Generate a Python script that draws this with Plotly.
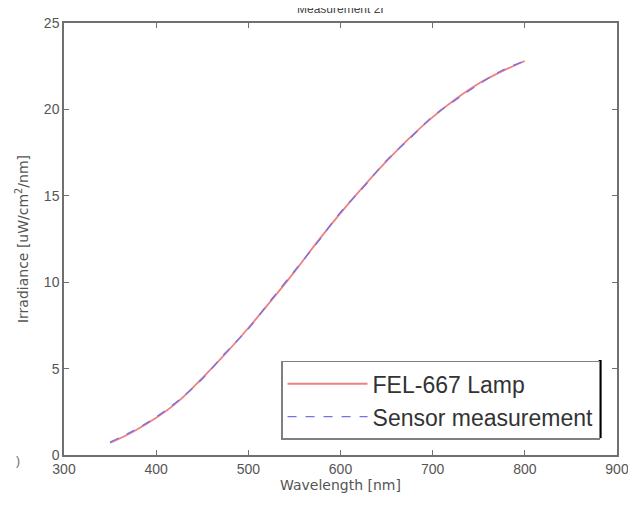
import plotly.graph_objects as go

wavelength = [350, 375, 400, 425, 450, 475, 500, 525, 550, 575, 600, 625, 650, 675, 700, 725, 750, 775, 800]
lamp = [0.7, 1.35, 2.15, 3.15, 4.45, 5.85, 7.35, 8.95, 10.6, 12.35, 14.0, 15.55, 17.0, 18.35, 19.55, 20.6, 21.5, 22.2, 22.8]
sensor = [0.75, 1.4, 2.2, 3.2, 4.4, 5.9, 7.3, 9.0, 10.65, 12.3, 14.05, 15.5, 17.05, 18.3, 19.6, 20.55, 21.45, 22.25, 22.8]
x_ticks = [300, 400, 500, 600, 700, 800, 900]
y_ticks = [0, 5, 10, 15, 20, 25]

fig = go.Figure()
fig.add_trace(go.Scatter(x=wavelength, y=lamp, mode="lines", name="FEL-667 Lamp",
                         line=dict(color="#f08080", width=1.8, shape="spline")))
fig.add_trace(go.Scatter(x=wavelength, y=sensor, mode="lines", name="Sensor measurement",
                         line=dict(color="#7070f0", width=1.3, dash="dash", shape="spline")))

axis_common = dict(showline=True, linecolor="#707070", linewidth=1.5, mirror="ticks",
                   ticks="inside", ticklen=5, tickcolor="#707070", showgrid=False, zeroline=False,
                   tickfont=dict(family="Liberation Sans Narrow, Arial Narrow, Arial", size=14, color="#555555"))

fig.update_layout(
    width=628, height=497,
    margin=dict(l=56, r=14, t=7, b=50),
    paper_bgcolor="white", plot_bgcolor="white",
    xaxis=dict(range=[300, 900], tickvals=x_ticks,
               title=dict(text="Wavelength [nm]", font=dict(family="DejaVu Sans", size=14, color="#555555"), standoff=2),
               **axis_common),
    yaxis=dict(range=[0, 25], tickvals=y_ticks,
               title=dict(text="Irradiance [uW/cm<sup>2</sup>/nm]", font=dict(family="DejaVu Sans", size=14, color="#555555"), standoff=12),
               **axis_common),
    legend=dict(x=0.3925, y=0.218, xanchor="left", yanchor="top", bgcolor="white",
                bordercolor="#808080", borderwidth=1.5, itemwidth=80,
                font=dict(family="Arial", size=23, color="#333333"), tracegroupgap=0),
    showlegend=True,
)

fig.add_annotation(text="Measurement 2I", xref="paper", yref="paper", x=0.5, y=1.0,
                   xanchor="center", yanchor="bottom", yshift=5, showarrow=False,
                   font=dict(family="Arial", size=12, color="#444444"))
fig.add_shape(type="line", xref="paper", yref="paper", x0=0.9695, x1=0.9695, y0=0.039, y1=0.22,
              line=dict(color="black", width=3))
fig.add_annotation(text=")", xref="paper", yref="paper", x=-0.09, y=-0.035, showarrow=False,
                   font=dict(family="Arial", size=12, color="#666666"))

fig.write_html("out.html")
